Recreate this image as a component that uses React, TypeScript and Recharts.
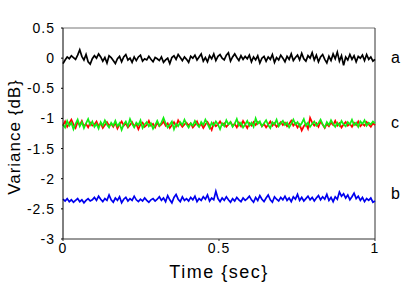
import { LineChart, Line, XAxis, YAxis, ReferenceLine } from "recharts";

// trace a (black), around 0 dB
const seriesA = [
  -0.09, -0.03, 0.02, -0.01, 0.04, 0.01, -0.02, 0.05, 0.14, 0.03, -0.03, 0.06, -0.06, -0.1, -0.01,
  0.04, 0.0, 0.07, 0.02, -0.05, 0.01, -0.08, 0.04, 0.01, -0.04, -0.09, -0.01, 0.03, -0.06, 0.02,
  0.06, -0.03, 0.0, -0.07, 0.02, -0.04, 0.02, 0.05, -0.05, -0.01, -0.03, 0.03, -0.02, -0.06, 0.01,
  -0.01, -0.04, 0.02, -0.07, -0.03, 0.0, -0.09, 0.01, 0.04, -0.02, 0.06, 0.01, -0.04, 0.02, -0.02,
  -0.07, 0.03, 0.0, 0.05, -0.03, 0.02, 0.07, -0.05, 0.01, -0.06, 0.04, -0.01, 0.07, -0.04, 0.03,
  0.06, 0.0, -0.03, 0.05, 0.09, -0.05, 0.02, 0.07, 0.01, -0.04, 0.04, -0.02, 0.03, -0.01, 0.05,
  -0.06, 0.02, -0.03, 0.04, -0.08, 0.0, 0.03, -0.05, 0.02, -0.02, 0.06, -0.07, 0.01, -0.03, 0.05,
  0.0, -0.06, 0.03, -0.02, 0.07, -0.04, 0.01, 0.05, -0.03, 0.08, -0.01, -0.05, 0.04, 0.0, 0.09,
  -0.03, 0.05, -0.06, 0.02, 0.06, -0.02, -0.08, 0.03, -0.04, 0.07, -0.01, 0.1, -0.05, 0.04, -0.12,
  0.02, -0.03, 0.06, -0.02, 0.04, -0.06, 0.03, 0.0, 0.05, -0.04, 0.06, -0.02, 0.02, -0.05, -0.02,
];

// trace c, red
const seriesCRed = [
  -1.12, -1.05, -1.14, -1.08, -1.02, -1.1, -1.16, -1.06, -1.11, -1.04, -1.13, -1.09, -1.15, -1.07, -1.12,
  -1.1, -1.05, -1.13, -1.08, -1.16, -1.11, -1.06, -1.12, -1.09, -1.14, -1.07, -1.17, -1.1, -1.05, -1.12,
  -1.08, -1.15, -1.11, -1.06, -1.13, -1.09, -1.18, -1.1, -1.07, -1.14, -1.11, -1.04, -1.12, -1.09, -1.15,
  -1.07, -1.13, -1.1, -1.05, -1.12, -1.08, -1.16, -1.11, -1.06, -1.13, -1.03, -1.09, -1.14, -1.1, -1.07,
  -1.12, -1.08, -1.15, -1.11, -1.05, -1.13, -1.09, -1.16, -1.1, -1.06, -1.12, -1.19, -1.08, -1.13, -1.1,
  -1.05, -1.11, -1.08, -1.14, -1.1, -1.06, -1.12, -1.09, -1.15, -1.07, -1.13, -1.04, -1.1, -1.16, -1.08,
  -1.12, -1.06, -1.11, -1.06, -1.07, -1.13, -1.09, -1.15, -1.1, -1.05, -1.12, -1.08, -1.14, -1.1, -1.06,
  -1.11, -1.07, -1.13, -1.09, -1.04, -1.12, -1.08, -1.15, -1.1, -1.2, -1.13, -1.09, -1.17, -0.99, -1.07,
  -1.12, -1.08, -1.14, -1.05, -1.1, -1.16, -1.09, -1.13, -1.07, -1.11, -1.04, -1.12, -1.08, -1.15, -1.1,
  -1.06, -1.12, -1.09, -1.14, -1.07, -1.11, -1.05, -1.13, -1.09, -1.12, -1.06, -1.1, -1.14, -1.08, -1.11,
];

// trace c, green
const seriesCGreen = [
  -1.1, -1.15, -1.04, -1.12, -1.07, -1.18, -1.09, -1.02, -1.13, -1.06, -1.16, -1.08, -1.01, -1.11, -1.05,
  -1.14, -1.09, -1.17, -1.06, -1.12, -1.03, -1.1, -1.15, -1.07, -1.12, -1.04, -1.13, -1.08, -1.19, -1.1,
  -1.05, -1.13, -1.01, -1.09, -1.15, -1.07, -1.11, -1.03, -1.16, -1.1, -1.06, -1.13, -1.08, -1.17, -1.11,
  -1.04, -1.12, -1.07, -0.99, -1.08, -1.15, -1.1, -1.05, -1.18, -1.09, -1.13, -1.06, -1.11, -1.02, -1.1,
  -1.15, -1.08, -1.12, -1.04, -1.1, -1.14, -1.06, -1.11, -1.02, -1.09, -1.16, -1.07, -1.12, -1.05, -1.1,
  -1.18, -1.08, -1.13, -1.03, -1.1, -1.06, -1.14, -1.09, -1.01, -1.12, -1.07, -1.15, -1.1, -1.04, -1.12,
  -1.07, -1.14, -1.0, -1.09, -1.05, -1.13, -1.08, -1.03, -1.11, -1.16, -1.06, -1.1, -1.02, -1.13, -1.08,
  -1.04, -1.11, -1.07, -1.15, -1.09, -1.02, -1.1, -1.06, -1.13, -1.08, -1.01, -1.12, -1.07, -1.14, -1.09,
  -1.05, -1.12, -1.08, -1.02, -1.1, -1.15, -1.06, -1.11, -1.03, -1.09, -1.14, -1.07, -1.12, -1.04, -1.1,
  -1.13, -1.06, -1.1, -1.02, -1.11, -1.07, -1.14, -1.05, -1.09, -1.03, -1.12, -1.07, -1.1, -1.05, -1.08,
];

// trace b (blue)
const seriesB = [
  -2.34, -2.37, -2.33, -2.38, -2.35, -2.39, -2.36, -2.33, -2.38, -2.35, -2.4, -2.36, -2.33, -2.37, -2.35,
  -2.31, -2.36, -2.29, -2.34, -2.38, -2.33, -2.36, -2.27, -2.35, -2.39, -2.32, -2.36, -2.3, -2.4, -2.34,
  -2.31, -2.37, -2.33, -2.36, -2.29, -2.35, -2.38, -2.34, -2.37, -2.32, -2.36, -2.39, -2.35, -2.33, -2.37,
  -2.34, -2.3, -2.36, -2.32, -2.38, -2.28, -2.35, -2.4, -2.31, -2.26, -2.34, -2.38, -2.3, -2.36, -2.33,
  -2.37, -2.31, -2.35, -2.29, -2.38, -2.33, -2.36, -2.3, -2.34, -2.27, -2.37, -2.32, -2.35, -2.21, -2.33,
  -2.38, -2.32, -2.36, -2.3, -2.35, -2.39, -2.33, -2.37, -2.31, -2.35, -2.38, -2.32, -2.36, -2.33, -2.29,
  -2.35, -2.39, -2.31, -2.36, -2.28, -2.34, -2.38, -2.32, -2.27, -2.35, -2.39, -2.3, -2.34, -2.37, -2.31,
  -2.35, -2.29, -2.36, -2.32, -2.38, -2.3, -2.34, -2.26, -2.36, -2.31, -2.37, -2.33, -2.29, -2.35, -2.31,
  -2.37, -2.32, -2.28, -2.35, -2.3, -2.34, -2.26, -2.36, -2.31, -2.38, -2.3, -2.34, -2.22, -2.29, -2.25,
  -2.32, -2.27, -2.35, -2.3, -2.24, -2.33, -2.29, -2.36, -2.31, -2.38, -2.33, -2.36, -2.32, -2.39, -2.37,
];

const yTicks = [0.5, 0, -0.5, -1, -1.5, -2, -2.5, -3];
const xTicks = [0, 0.5, 1];
const traceLabels = ["a", "c", "b"];
const traceLabelLevels = [0.02, -1.06, -2.25];

const data = seriesA.map((a, i) => ({
  t: i / (seriesA.length - 1),
  a,
  cRed: seriesCRed[i],
  cGreen: seriesCGreen[i],
  b: seriesB[i],
}));

const font = "'Liberation Sans', Arial, sans-serif";

function YLabel() {
  return (
    <text
      x={14}
      y={137}
      transform="rotate(-90, 14, 137)"
      textAnchor="middle"
      dominantBaseline="central"
      fill="#000"
      fontSize={17}
      fontFamily={font}
      letterSpacing={1}
    >
      Variance {"{dB}"}
    </text>
  );
}

export default function App() {
  return (
    <div style={{ position: "absolute", left: 0, top: 0, width: 403, height: 284, background: "#fff" }}>
      <LineChart width={403} height={284} data={data} margin={{ top: 28, right: 28, bottom: 0, left: 0 }}>
        <XAxis
          dataKey="t"
          type="number"
          domain={[0, 1]}
          ticks={xTicks}
          height={45}
          stroke="#333"
          tickSize={2}
          tickMargin={2}
          tick={{ fill: "#000", fontSize: 14, fontFamily: font, letterSpacing: 1 }}
          label={{
            value: "Time {sec}",
            position: "insideBottom",
            offset: 6,
            fill: "#000",
            fontSize: 18,
            fontFamily: font,
            letterSpacing: 1.5,
          }}
        />
        <YAxis
          type="number"
          domain={[-3, 0.5]}
          ticks={yTicks}
          width={63}
          stroke="#000"
          tickSize={2}
          tickMargin={6}
          tick={{ fill: "#000", fontSize: 14, fontFamily: font, letterSpacing: 1 }}
          label={{ content: () => <YLabel /> }}
        />
        <ReferenceLine y={0.5} stroke="#777" />
        <ReferenceLine x={1} stroke="#333" />
        {traceLabels.map((name, i) => (
          <ReferenceLine
            key={name}
            y={traceLabelLevels[i]}
            stroke="none"
            label={{ value: name, position: "right", offset: 16, fill: "#000", fontSize: 16, fontFamily: font }}
          />
        ))}
        <Line dataKey="a" stroke="#000" strokeWidth={1.7} dot={false} isAnimationActive={false} />
        <Line dataKey="cRed" stroke="#ff0000" strokeWidth={1.7} dot={false} isAnimationActive={false} />
        <Line dataKey="cGreen" stroke="#11ee11" strokeWidth={1.7} dot={false} isAnimationActive={false} />
        <Line dataKey="b" stroke="#0000ee" strokeWidth={1.7} dot={false} isAnimationActive={false} />
      </LineChart>
    </div>
  );
}
